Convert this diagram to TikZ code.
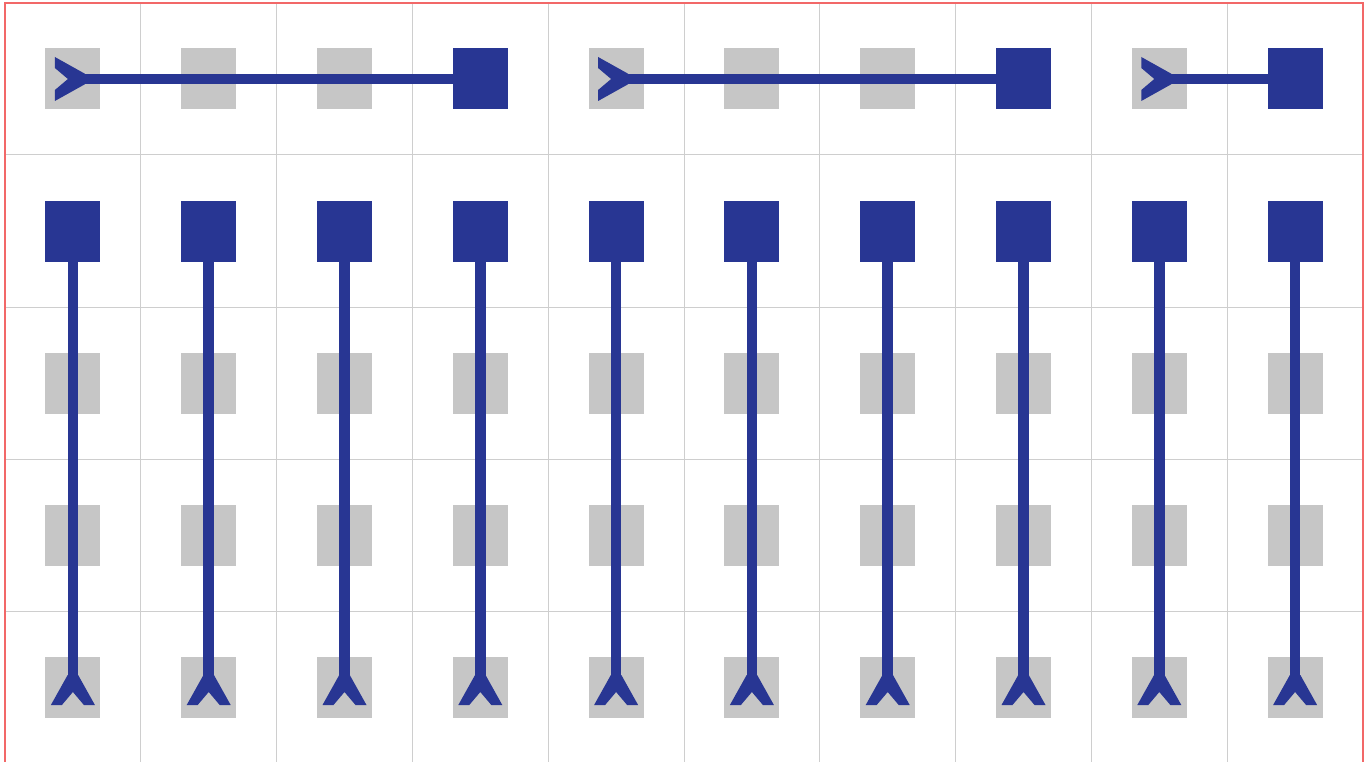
\documentclass[tikz,border=0pt]{standalone}
\definecolor{fblue}{RGB}{40,54,147}
\definecolor{cellgray}{RGB}{198,198,198}
\definecolor{gridgray}{RGB}{206,206,206}
\definecolor{bordred}{RGB}{242,104,104}
\begin{document}
\begin{tikzpicture}[x=1pt,y=-1pt,
  cell/.style={rectangle, minimum width=55pt, minimum height=61pt, inner sep=0pt, draw=none},
  idle/.style={cell, fill=cellgray},
  active/.style={cell, fill=fblue},
  conn/.style={draw=fblue, line width=10.5pt},
  gridline/.style={draw=gridgray, line width=1pt},
  border/.style={draw=bordred, line width=1.6pt},
  fork/.pic={\fill[fblue] (-18,-22) -- (12,-5.25) -- (12,5.25) -- (-18,22) -- (-18,11) -- (-5,0) -- (-18,-11) -- cycle;}]
  \useasboundingbox (0,0) rectangle (1367,762);
  \fill[white] (0,0) rectangle (1367,762);
  % grid
  \foreach \k in {1,...,9}{
    \draw[gridline] ({5+135.8*\k},3) -- ({5+135.8*\k},762);
  }
  \foreach \r in {1,...,4}{
    \draw[gridline] (5,{3+152*\r}) -- (1363,{3+152*\r});
  }
  % border
  \draw[border] (5,762) -- (5,3) -- (1363,3) -- (1363,762);
  % cells
  \foreach \i in {0,...,9}{
    \foreach \j in {0,...,4}{
      \pgfmathtruncatemacro\act{((\j==1)||((\j==0)&&((\i==3)||(\i==7)||(\i==9))))?1:0}
      \ifnum\act=1 \def\st{active}\else\def\st{idle}\fi
      \node[\st] (n-\i-\j) at ({72.9+135.8*\i},{79+152*\j}) {};
    }
  }
  % horizontal connectors
  \foreach \s/\e in {0/3,4/7,8/9}{
    \draw[conn] (n-\e-0.center) -- (n-\s-0.center);
    \pic at (n-\s-0.center) {fork};
  }
  % vertical connectors
  \foreach \i in {0,...,9}{
    \draw[conn] (n-\i-1.center) -- (n-\i-4.center);
    \pic[rotate=90] at (n-\i-4.center) {fork};
  }
\end{tikzpicture}
\end{document}
